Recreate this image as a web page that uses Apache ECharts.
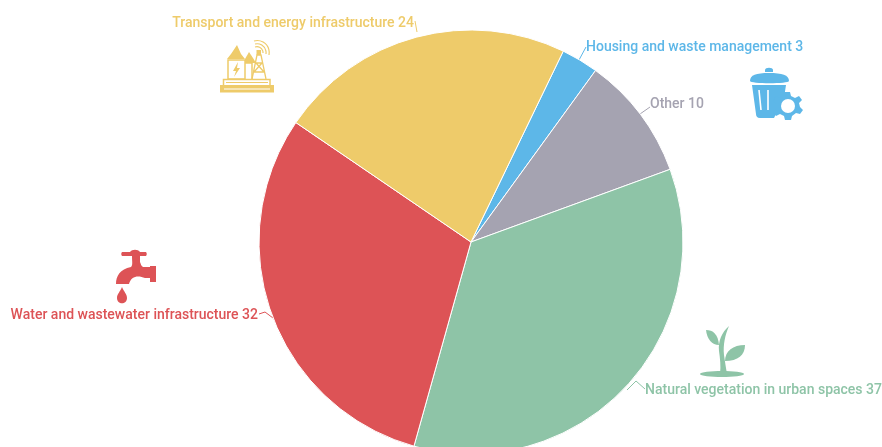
<!DOCTYPE html>
<html>
<head>
<meta charset="utf-8">
<style>
  html, body { margin: 0; padding: 0; background: #fff; }
  #chart { width: 882px; height: 447px; }
</style>
<script src="https://cdn.jsdelivr.net/npm/echarts@6/dist/echarts.min.js"></script>
</head>
<body>
<div id="chart"></div>
<script>
const categories = [
  'Housing and waste management',
  'Other',
  'Natural vegetation in urban spaces',
  'Water and wastewater infrastructure',
  'Transport and energy infrastructure'
]
const values = [3, 10, 37, 32, 24]
const colors = ['#5DB7E8', '#A5A3B1', '#8EC4A7', '#DD5356', '#EECB6A']

// label placement and leader lines, same order as categories
const labelSpots = [
  { x: 586, y: 47, align: 'left', line: [[586, 47], [579, 60]] },
  { x: 650, y: 104, align: 'left', line: [[650, 107], [640, 114]] },
  { x: 645, y: 390, align: 'left', line: [[645, 389], [636, 381], [627, 390]] },
  { x: 258, y: 315, align: 'right', line: [[259, 314], [265, 312], [273, 318]] },
  { x: 414, y: 23, align: 'right', line: [[415, 21], [417, 32]] }
]

const YELLOW = colors[4], BLUE = colors[0], GREEN = colors[2], RED = colors[3]

// the graphic component has no path type, so each icon piece is registered as a shape
let shapeCount = 0
function pathShape(d, style) {
  const name = 'iconPiece' + shapeCount++
  echarts.graphic.registerShape(name, echarts.graphic.extendPath(d))
  return { type: name, silent: true, style: style }
}
function fillPath(d, fill) {
  return pathShape(d, { fill: fill })
}
function linePath(d, stroke, w) {
  return pathShape(d, { fill: 'none', stroke: stroke, lineWidth: w })
}

// decorative icons next to the labels
const icons = [
  // energy
  fillPath('M220 85H274V92.5H220Z', YELLOW),
  linePath('M223.5 85V79.5H270V85', YELLOW, 1.5),
  linePath('M224 89H270', '#fff', 1),
  linePath('M226 82.5H268', YELLOW, 1),
  fillPath('M227 59L231 54L237 45L241 54L245 59Z', YELLOW),
  fillPath('M245 63V59L249 52L253 58L256 63Z', YELLOW),
  linePath('M228 60H245V79H228ZM245 63H252V79', YELLOW, 1.5),
  fillPath('M238 62L233 71H236L234 77L240 68H237Z', YELLOW),
  linePath('M252 79L257 55H261L266 79M254 72H264M256 63H262M254 72L262 63M264 72L256 63', YELLOW, 1.3),
  fillPath('M256.5 50H261V55H256.5Z', YELLOW),
  linePath('M255 47A6 6 0 0 1 263 53M255 44A9 9 0 0 1 266 54M254 41A12 12 0 0 1 269 55', YELLOW, 1.2),
  // bin and gear
  fillPath('M765 70C765 67 773 67 773 70V72H765Z', BLUE),
  fillPath('M750 81C750 75 756 73 769 73C782 73 789 75 789 81C789 84 750 84 750 81Z', BLUE),
  fillPath('M752 85H786L784 98C778 99 775 105 777 112L774 118H760C757 118 756 116 756 114Z', BLUE),
  linePath('M759 90L761 110M768 90V110', '#fff', 1.6),
  fillPath('M784 92H790L791 96L795 98L799 96L802 100L799 103L800 107L803 110L800 114L796 113L792 116L791 120H785L784 116L780 114L776 116L773 112L776 109V104L773 101L776 96L780 98Z', BLUE),
  { type: 'circle', silent: true, shape: { cx: 788, cy: 106, r: 7 }, style: { fill: '#fff' } },
  // tap
  fillPath('M122 252H130C132 249 138 249 140 252H146C147 253 147 255 146 256H140V262C141 264 141 266 143 267H150V266H156V282H150V278H145C138 275 131 276 129 284H116C116 276 120 269 131 267C133 265 132 262 132 256H122C121 255 121 253 122 252Z', RED),
  fillPath('M122 287C124 292 127 294 127 298C127 305 117 305 117 298C117 294 120 292 122 287Z', RED),
  // plant
  fillPath('M729 326C725 335 723 345 724 355C725 362 726 368 727 374H720C721 366 720 358 719 351C718 341 722 332 729 326Z', GREEN),
  fillPath('M706 330C713 330 718 334 719 345C712 345 707 339 706 330Z', GREEN),
  fillPath('M745 345C745 355 738 361 725 361C725 351 733 345 745 345Z', GREEN),
  fillPath('M700 374C700 370 744 370 744 374C744 378 700 378 700 374Z', GREEN)
]

const chart = echarts.init(document.getElementById('chart'))
chart.setOption({
  animation: false,
  color: colors,
  graphic: { elements: icons },
  series: [{
    type: 'pie',
    center: [471, 242],
    radius: [0, 212],
    startAngle: 64.2,
    avoidLabelOverlap: false,
    itemStyle: { borderColor: '#fff', borderWidth: 1 },
    label: {
      show: true,
      formatter: '{b} {c}',
      fontFamily: 'Roboto',
      fontWeight: 500,
      fontSize: 14,
      color: 'inherit'
    },
    labelLine: { show: true, length: 8, length2: 8, lineStyle: { width: 1 } },
    labelLayout: function (params) {
      const spot = labelSpots[params.dataIndex]
      return {
        x: spot.x,
        y: spot.y,
        align: spot.align,
        verticalAlign: 'middle',
        labelLinePoints: spot.line
      }
    },
    data: categories.map((name, i) => ({ name: name, value: values[i] }))
  }]
})
</script>
</body>
</html>
